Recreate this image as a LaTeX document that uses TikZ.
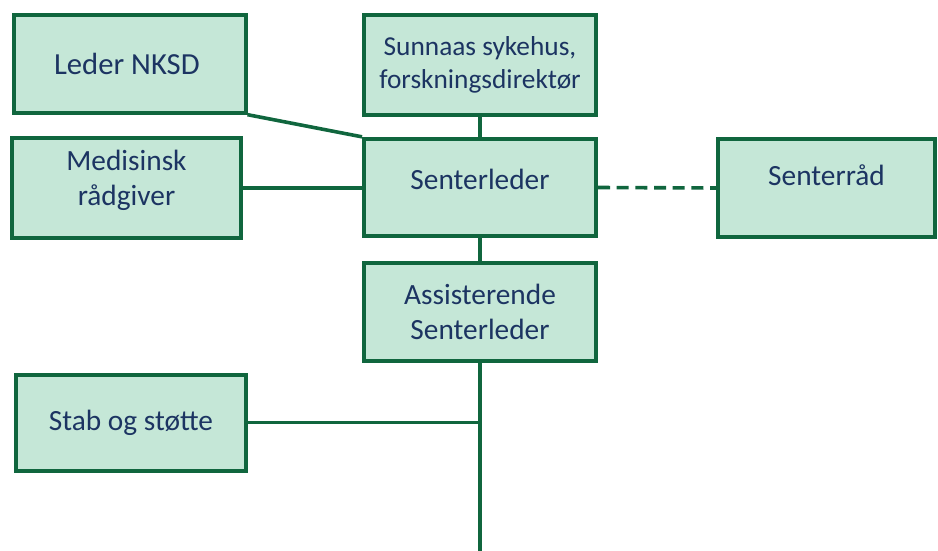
\documentclass[tikz,border=0pt]{standalone}
\usepackage{fontspec}
\setmainfont{Carlito}
\definecolor{boxfill}{RGB}{197,231,215}
\definecolor{boxline}{RGB}{16,102,62}
\definecolor{boxtext}{RGB}{28,52,98}
\tikzset{
  orgbox/.style={draw=boxline, fill=boxfill, line width=3pt, text=boxtext,
    align=center, inner sep=0pt, font=\fontsize{22}{26}\selectfont},
  orgline/.style={draw=boxline, line width=2.7pt},
}
\begin{document}
\begin{tikzpicture}[x=0.75pt,y=-0.75pt]%
\useasboundingbox (0,0) rectangle (938,550);
\node[orgbox, minimum width=174pt, minimum height=73pt, font=\fontsize{23}{26}\selectfont] (leder) at (129.5,64) {Leder NKSD\hspace*{4pt}};
\node[orgbox, minimum width=174pt, minimum height=75pt, font=\fontsize{20.5}{25}\selectfont] (sunnaas) at (480,65) {Sunnaas sykehus,\\forskningsdirektør};
\node[orgbox, minimum width=174pt, minimum height=73pt, text depth=13pt] (senterleder) at (480,187.5) {Senterleder};
\node[orgbox, minimum width=172pt, minimum height=75pt, text depth=15pt] (medisinsk) at (126.5,188) {Medisinsk\\rådgiver};
\node[orgbox, minimum width=163pt, minimum height=73pt, text depth=19pt] (senterrad) at (826.5,188) {Senterråd};
\node[orgbox, minimum width=174pt, minimum height=74pt] (assist) at (480,312) {Assisterende\\Senterleder};
\node[orgbox, minimum width=172pt, minimum height=72pt] (stab) at (131,422.5) {Stab og støtte};
\coordinate (bunn) at (480,552);
\draw[orgline] (leder.south east) -- (senterleder.north west);
\draw[orgline] (medisinsk.east) -- (medisinsk.east -| senterleder.west);
\draw[orgline] (sunnaas.south) -- (senterleder.north);
\draw[orgline, dash pattern=on 9pt off 5pt] (senterleder.east) -- (senterrad.west);
\draw[orgline] (senterleder.south) -- (assist.north);
\draw[orgline] (assist.south) -- (bunn);
\draw[orgline] (stab.east) -- (stab.east -| assist.south);
\end{tikzpicture}
\end{document}
